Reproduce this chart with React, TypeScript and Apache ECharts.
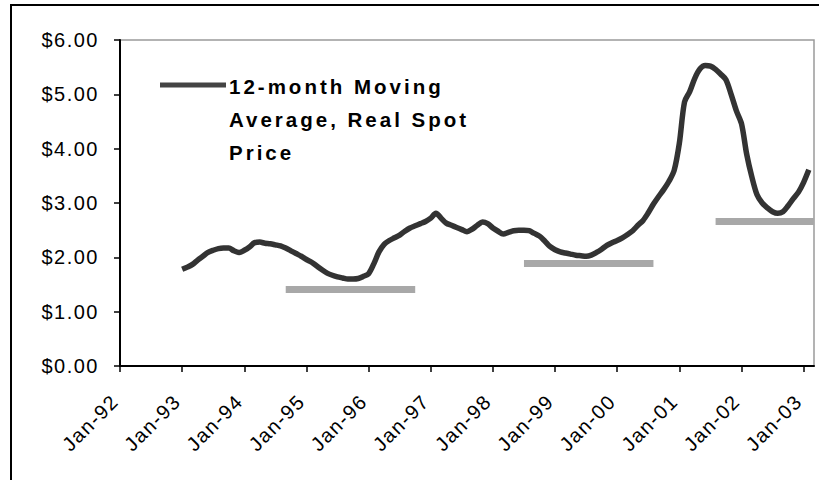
import React, { useEffect, useRef } from "react";
import * as echarts from "echarts";

const MONTHS = ["Jan", "Feb", "Mar", "Apr", "May", "Jun", "Jul", "Aug", "Sep", "Oct", "Nov", "Dec"];
const YEARS = ["92", "93", "94", "95", "96", "97", "98", "99", "00", "01", "02", "03"];
const LAST_CATEGORY = "Mar-03";

// 12-month moving average, real spot price, Jan-93 .. Feb-03
const START_CATEGORY = "Jan-93";
const PRICE = [
  1.78, 1.82, 1.87, 1.95, 2.02, 2.09, 2.13, 2.16, 2.17, 2.17, 2.12, 2.09,
  2.13, 2.19, 2.27, 2.28, 2.26, 2.25, 2.23, 2.21, 2.17, 2.12, 2.07, 2.02,
  1.96, 1.91, 1.84, 1.77, 1.71, 1.67, 1.64, 1.62, 1.60, 1.60, 1.61, 1.65,
  1.70, 1.88, 2.10, 2.24, 2.31, 2.36, 2.41, 2.48, 2.54, 2.58, 2.62, 2.66,
  2.72, 2.81, 2.72, 2.63, 2.59, 2.55, 2.51, 2.47, 2.52, 2.59, 2.65, 2.62,
  2.54, 2.48, 2.43, 2.46, 2.49, 2.50, 2.50, 2.49, 2.44, 2.39, 2.30, 2.20,
  2.14, 2.10, 2.08, 2.06, 2.04, 2.03, 2.02, 2.04, 2.09, 2.15, 2.22, 2.27,
  2.31, 2.36, 2.42, 2.49, 2.59, 2.68, 2.82, 2.98, 3.12, 3.25, 3.40, 3.60,
  4.10, 4.86, 5.05, 5.30, 5.47, 5.53, 5.52, 5.46, 5.37, 5.27, 5.00, 4.70,
  4.46, 3.90, 3.48, 3.15, 3.00, 2.91, 2.84, 2.81, 2.84, 2.95, 3.08, 3.20,
  3.38, 3.61,
];

// Gray horizontal reference bars
const BAR_STARTS = ["Sep-94", "Jul-98", "Aug-01"];
const BAR_ENDS = ["Oct-96", "Aug-00", "Mar-03"];
const BAR_VALUES = [1.42, 1.9, 2.67];

const Y_MIN = 0;
const Y_MAX = 6;
const Y_INTERVAL = 1;

const LEGEND_TEXT = "12-month Moving\nAverage, Real Spot\nPrice";

function buildCategories(): string[] {
  const out: string[] = [];
  for (const y of YEARS) {
    for (const m of MONTHS) {
      const c = `${m}-${y}`;
      out.push(c);
      if (c === LAST_CATEGORY) return out;
    }
  }
  return out;
}

const CSS = `
.chartbox text { letter-spacing: 1.5px; }
.chartbox text[style*="bold"], .chartbox text[font-weight="bold"], .chartbox text[font-weight="700"] { letter-spacing: 3px; }
`;

export default function App() {
  const ref = useRef<HTMLDivElement>(null);

  useEffect(() => {
    if (!ref.current) return;
    const chart = echarts.init(ref.current, undefined, { renderer: "svg" });
    const categories = buildCategories();
    const startIdx = categories.indexOf(START_CATEGORY);
    const data: (number | null)[] = categories.map((_, i) => {
      const k = i - startIdx;
      return k >= 0 && k < PRICE.length ? PRICE[k] : null;
    });
    const everyYear = (index: number) => index % 12 === 0;
    const font = '"Liberation Sans", Arial, sans-serif';

    chart.setOption({
      animation: false,
      backgroundColor: "#fff",
      textStyle: { fontFamily: font },
      grid: {
        left: 120,
        right: 5,
        top: 40,
        bottom: 114,
        show: true,
        borderColor: "#9a9a9a",
        borderWidth: 1.5,
        backgroundColor: "transparent",
      },
      xAxis: {
        type: "category",
        data: categories,
        boundaryGap: false,
        axisLine: { show: true, lineStyle: { color: "#000", width: 2 } },
        axisTick: { show: true, interval: everyYear, length: 6, lineStyle: { color: "#000", width: 1.5 } },
        axisLabel: {
          interval: everyYear,
          rotate: 45,
          margin: 27,
          padding: [0, 7, 0, 0],
          fontSize: 20,
          color: "#000",
          fontFamily: font,
        },
        splitLine: { show: false },
      },
      yAxis: {
        type: "value",
        min: Y_MIN,
        max: Y_MAX,
        interval: Y_INTERVAL,
        axisLine: { show: true, lineStyle: { color: "#000", width: 2 } },
        axisTick: { show: true, length: 6, lineStyle: { color: "#000", width: 1.5 } },
        axisLabel: {
          formatter: (v: number) => "$" + v.toFixed(2),
          fontSize: 20,
          color: "#000",
          margin: 21,
          fontFamily: font,
        },
        splitLine: { show: false },
      },
      series: [
        {
          type: "line",
          name: "12-month Moving Average, Real Spot Price",
          data,
          symbol: "none",
          smooth: 0.3,
          connectNulls: false,
          lineStyle: { color: "#333", width: 5.5 },
          markLine: {
            silent: true,
            symbol: ["none", "none"],
            label: { show: false },
            lineStyle: { color: "#a8a8a8", width: 7, type: "solid" },
            data: BAR_VALUES.map((v, i) => [
              { coord: [BAR_STARTS[i], v] },
              { coord: [BAR_ENDS[i], v] },
            ]),
          },
        },
      ],
      graphic: [
        {
          type: "rect",
          silent: true,
          shape: { x: 11, y: 5, width: 840, height: 500 },
          style: { fill: "none", stroke: "#000", lineWidth: 2 },
        },
        {
          type: "line",
          silent: true,
          shape: { x1: 160, y1: 85, x2: 226, y2: 85 },
          style: { stroke: "#444", lineWidth: 5 },
        },
        {
          type: "text",
          silent: true,
          x: 229,
          y: 70,
          style: {
            text: LEGEND_TEXT,
            fontSize: 20.5,
            fontWeight: "bold",
            fontFamily: font,
            lineHeight: 33,
            fill: "#000",
            verticalAlign: "top",
          },
        },
      ],
    });

    return () => chart.dispose();
  }, []);

  return (
    <>
      <style>{CSS}</style>
      <div
        ref={ref}
        className="chartbox"
        style={{
          position: "fixed",
          left: 0,
          top: 0,
          width: 819,
          height: 480,
        }}
      />
    </>
  );
}
